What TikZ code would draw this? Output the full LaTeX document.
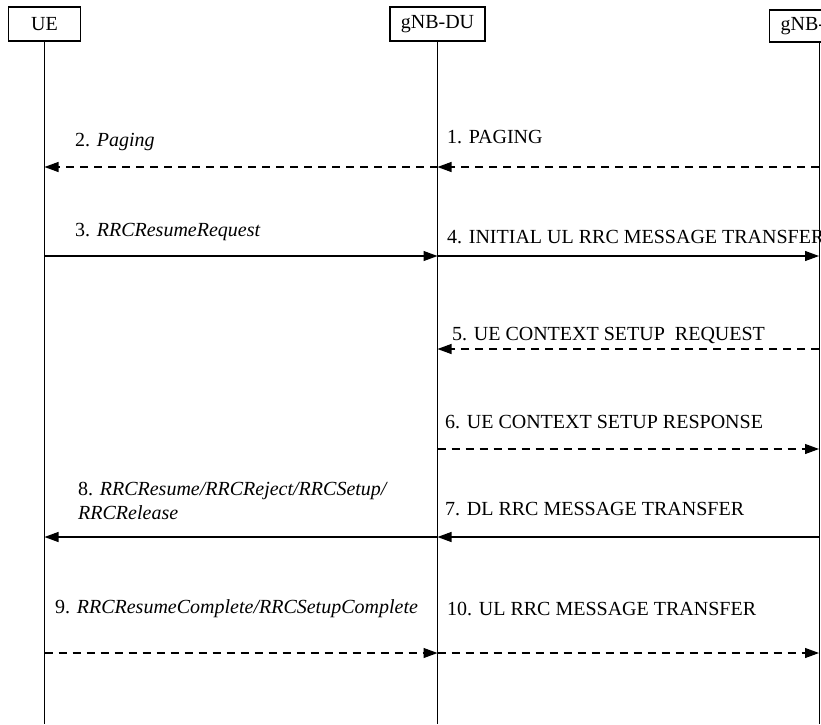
\documentclass[tikz,border=0pt]{standalone}
\usepackage{fontspec}
\setmainfont{Liberation Serif}
\usetikzlibrary{arrows.meta}
\begin{document}
\begin{tikzpicture}[x=1pt,y=-1pt,
  every node/.style={font=\fontsize{20}{24}\selectfont},
  entity/.style={draw,line width=1.3pt,minimum height=34pt,inner sep=0pt},
  life/.style={line width=1pt},
  msg/.style={line width=1.1pt,-{Triangle[length=14pt,width=10pt]}},
  dmsg/.style={msg,dash pattern=on 8pt off 6pt},
  lbl/.style={anchor=base west,inner sep=0pt}]
\useasboundingbox (0,0) rectangle (821,724);
\clip (0,0) rectangle (821,724);
\fill[white] (0,0) rectangle (821,724);
% entities
\node[entity,minimum width=72pt] (ue) at (44.5,24) {UE};
\node[entity,minimum width=95pt] (du) at (437.5,24) {gNB-DU};
\node[entity,anchor=west,minimum height=32pt,inner xsep=11pt] (cu) at (769,26) {gNB-CU};
% lifelines
\coordinate (ueB) at (44.5,724);
\coordinate (duB) at (437.5,724);
\coordinate (cuT) at (819,42);
\coordinate (cuB) at (819,724);
\draw[life] (ue.south) -- (ueB);
\draw[life] (du.south) -- (duB);
\draw[life] (cuT) -- (cuB);
% message points
\foreach \n/\y in {1/167,2/256,3/349,4/449,5/537,6/653}{
  \coordinate (u\n) at (44.5,\y);
  \coordinate (d\n) at (437.5,\y);
  \coordinate (c\n) at (819,\y);
}
% arrows
\draw[dmsg] (c1) -- (d1);
\draw[dmsg] (d1) -- (u1);
\draw[msg] (u2) -- (d2);
\draw[msg] (d2) -- (c2);
\draw[dmsg] (c3) -- (d3);
\draw[dmsg] (d4) -- (c4);
\draw[msg] (c5) -- (d5);
\draw[msg] (d5) -- (u5);
\draw[dmsg] (u6) -- (d6);
\draw[dmsg] (d6) -- (c6);
% labels
\node[lbl] (l1) at (447,143) {1. PAGING};
\node[lbl] (l2) at (75,146) {2. \textit{Paging}};
\node[lbl] (l3) at (75,236) {3. \textit{RRCResumeRequest}};
\node[lbl] (l4) at (447,243) {4. INITIAL UL RRC MESSAGE TRANSFER};
\node[lbl] (l5) at (452,340) {5. UE CONTEXT SETUP\ \ REQUEST};
\node[lbl] (l6) at (445,428) {6. UE CONTEXT SETUP RESPONSE};
\node[lbl] (l7) at (445,515) {7. DL RRC MESSAGE TRANSFER};
\node[lbl] (l8a) at (78,495) {8. \textit{RRCResume/RRCReject/RRCSetup/}};
\node[lbl] (l8b) at (78,519) {\textit{RRCRelease}};
\node[lbl] (l9) at (55,613) {9. \textit{RRCResumeComplete/RRCSetupComplete}};
\node[lbl] (l10) at (447,615) {10. UL RRC MESSAGE TRANSFER};
\end{tikzpicture}
\end{document}
